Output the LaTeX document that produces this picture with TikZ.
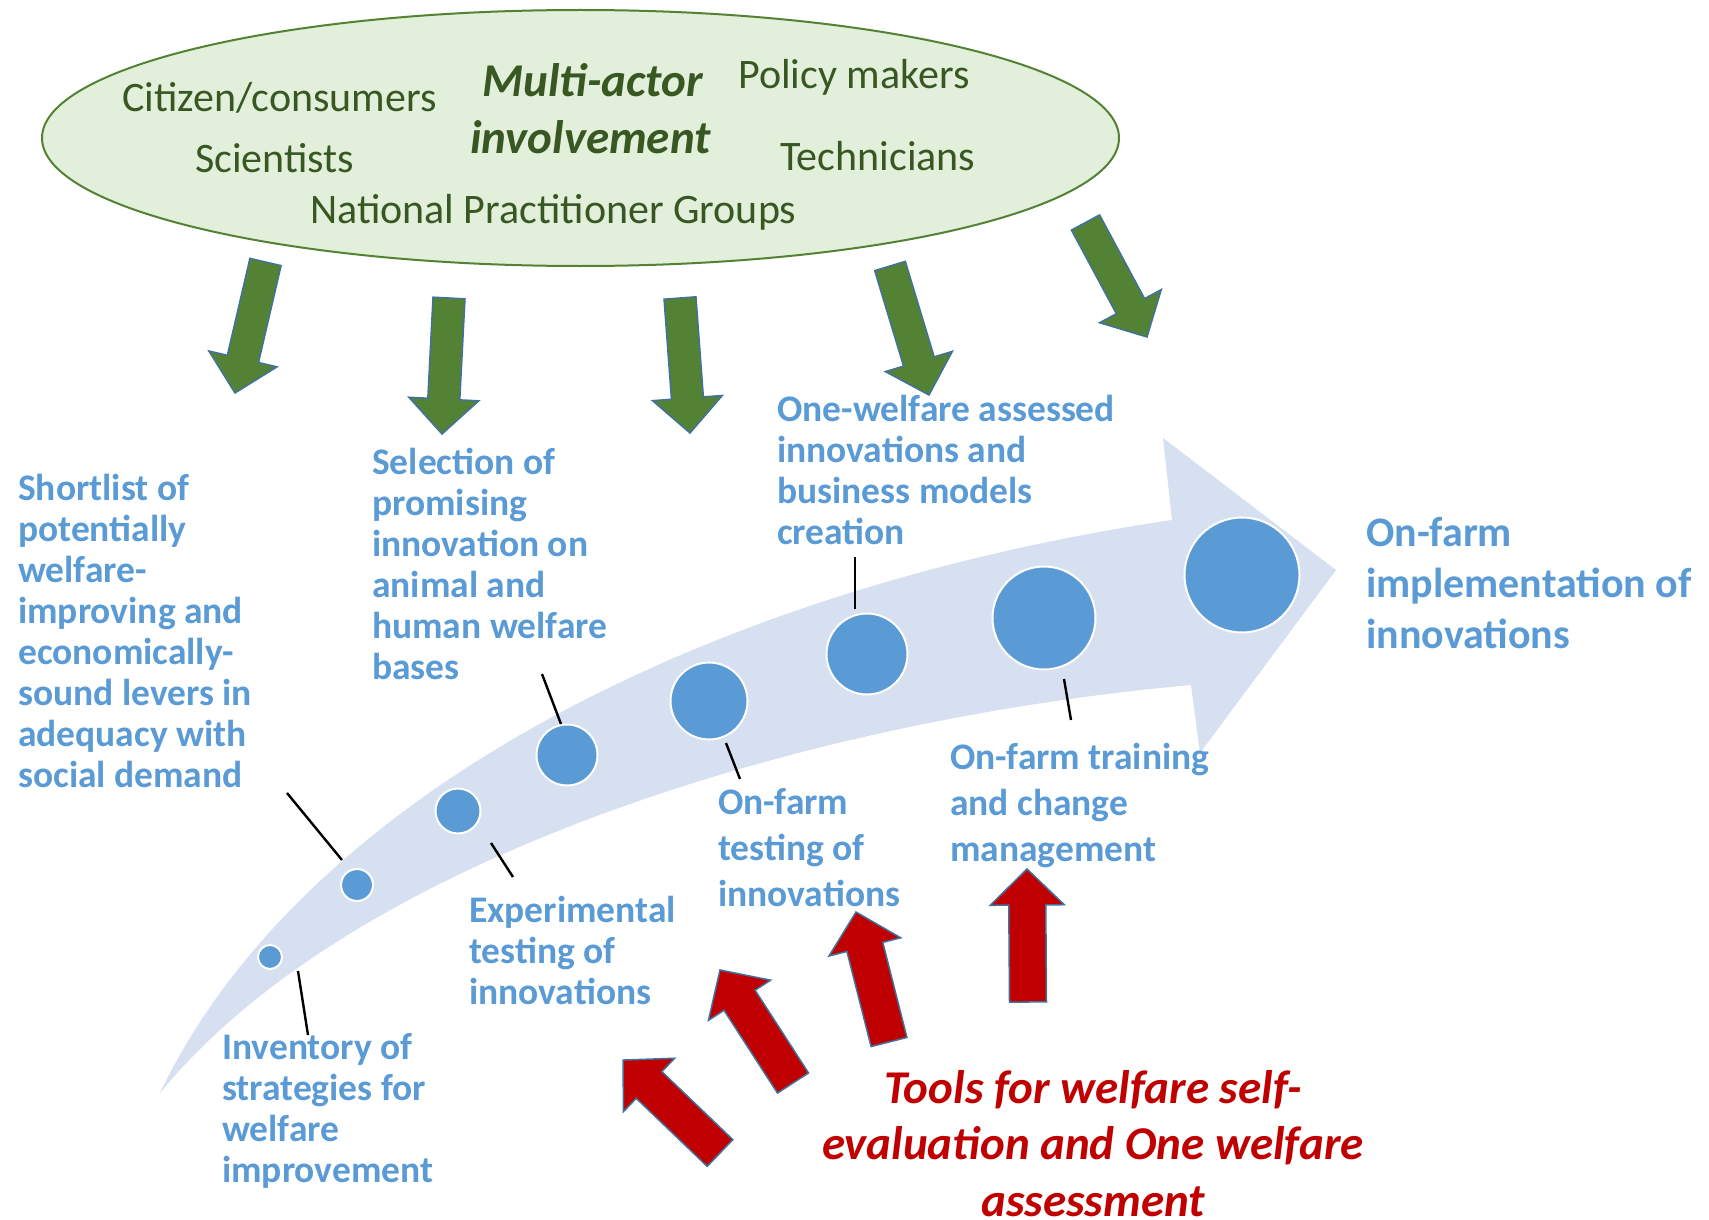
\documentclass[tikz,border=0pt]{standalone}
\usepackage{fontspec}
\setmainfont{Carlito}
\usetikzlibrary{calc,shapes.geometric}
\definecolor{bandblue}{RGB}{214,224,240}
\definecolor{dotblue}{RGB}{91,155,213}
\definecolor{txtblue}{RGB}{91,155,213}
\definecolor{ellfill}{RGB}{226,239,218}
\definecolor{ellline}{RGB}{84,130,53}
\definecolor{elltext}{RGB}{56,87,35}
\definecolor{garrow}{RGB}{84,130,53}
\definecolor{arrowline}{RGB}{65,113,156}
\definecolor{rarrow}{RGB}{192,0,0}
\newcommand\blockarrow[6]{%
  \path[#1] let \p1=(#2), \p2=(#3),
    \n1={atan2(\y2-\y1,\x2-\x1)}, \n2={veclen(\x2-\x1,\y2-\y1)} in
    [shift={(\p1)}, rotate=\n1]
    (0pt,#4pt) -- (\n2-#6pt,#4pt) -- (\n2-#6pt,#5pt) -- (\n2,0pt)
    -- (\n2-#6pt,-#5pt) -- (\n2-#6pt,-#4pt) -- (0pt,-#4pt) -- cycle;
}
\begin{document}
\begin{tikzpicture}[x=1pt,y=-1pt,
  dot/.style={circle, fill=dotblue, draw=white, line width=2pt, inner sep=0pt},
  leader/.style={draw=black, line width=2.4pt},
  btxt/.style={text=txtblue, font=\fontsize{37.5}{41}\selectfont\bfseries, align=left, anchor=base west, inner sep=0pt},
  btxtw/.style={btxt, font=\fontsize{37.5}{46}\selectfont\bfseries},
  gtxt/.style={text=elltext, font=\fontsize{42}{50}\selectfont, anchor=base west, inner sep=0pt},
  gtitle/.style={text=elltext, font=\fontsize{47}{56}\selectfont\bfseries\itshape, anchor=base west, inner sep=0pt},
  garr/.style={fill=garrow, draw=arrowline, line width=1.5pt, line join=miter},
  rarr/.style={fill=rarrow, draw=arrowline, line width=1.5pt, line join=miter}
]
\useasboundingbox (0,0) rectangle (1709,1220);
\fill[white] (0,0) rectangle (1709,1220);

% big curved arrow band
\fill[bandblue] (160,1093) .. controls (300,800) and (700,590) .. (1172,520)
  -- (1163,438) -- (1336,570) -- (1200,753) -- (1191,685)
  .. controls (800,720) and (350,860) .. (160,1093) -- cycle;

% ellipse
\node[ellipse, fill=ellfill, draw=ellline, line width=2pt, minimum width=1077pt, minimum height=256pt, inner sep=0pt] (ell) at (580.5,138) {};
\node[gtxt] (citizen) at (122,112) {Citizen/consumers};
\node[gtitle] (multi) at (482,97) {Multi-actor};
\node[gtxt] (policy) at (738,89) {Policy makers};
\node[gtitle] (invol) at (470,154) {involvement};
\node[gtxt] (scient) at (195,172) {Scientists};
\node[gtxt] (techn) at (780,171) {Technicians};
\node[gtxt] (npg) at (310,223) {National Practitioner Groups};

% green arrows
\coordinate (g1s) at (265.5,262); \coordinate (g1e) at (235,393);
\coordinate (g2s) at (449,298);   \coordinate (g2e) at (442,434);
\coordinate (g3s) at (680,298);   \coordinate (g3e) at (690,433);
\coordinate (g4s) at (890,266);   \coordinate (g4e) at (929,395);
\coordinate (g5s) at (1085.5,222.5); \coordinate (g5e) at (1147,337);
\blockarrow{garr}{g1s}{g1e}{16}{35}{35}
\blockarrow{garr}{g2s}{g2e}{16}{35}{35}
\blockarrow{garr}{g3s}{g3e}{16}{35}{35}
\blockarrow{garr}{g4s}{g4e}{16}{35}{35}
\blockarrow{garr}{g5s}{g5e}{16}{35}{35}

% red arrows
\coordinate (r1s) at (720,1153);  \coordinate (r1e) at (623,1060);
\coordinate (r2s) at (793,1083);  \coordinate (r2e) at (720,970);
\coordinate (r3s) at (889,1042);  \coordinate (r3e) at (856,912);
\coordinate (r4s) at (1028,1002); \coordinate (r4e) at (1027,869);
\blockarrow{rarr}{r1s}{r1e}{18.5}{37}{36}
\blockarrow{rarr}{r2s}{r2e}{18.5}{37}{36}
\blockarrow{rarr}{r3s}{r3e}{18.5}{37}{36}
\blockarrow{rarr}{r4s}{r4e}{18.5}{37}{36}

% dots
\node[dot, minimum size=24pt]  (c1) at (270,957) {};
\node[dot, minimum size=32pt]  (c2) at (357,885) {};
\node[dot, minimum size=45pt]  (c3) at (458,811) {};
\node[dot, minimum size=61pt]  (c4) at (567,755) {};
\node[dot, minimum size=77pt]  (c5) at (709,701) {};
\node[dot, minimum size=81pt]  (c6) at (867,654) {};
\node[dot, minimum size=103pt] (c7) at (1044,618) {};
\node[dot, minimum size=115pt] (c8) at (1242,575) {};

% leader lines
\coordinate (l1a) at (287,793);  \coordinate (l1b) at (342,860);
\coordinate (l2a) at (298,971);  \coordinate (l2b) at (308,1035);
\coordinate (l3a) at (491,843);  \coordinate (l3b) at (513,877);
\coordinate (l4a) at (542,674);  \coordinate (l4b) at (561,724);
\coordinate (l5a) at (726,743);  \coordinate (l5b) at (740,779);
\coordinate (l6a) at (855,557);  \coordinate (l6b) at (855,609);
\coordinate (l7a) at (1064,679); \coordinate (l7b) at (1071,720);
\draw[leader] (l1a) -- (l1b);
\draw[leader] (l2a) -- (l2b);
\draw[leader] (l3a) -- (l3b);
\draw[leader] (l4a) -- (l4b);
\draw[leader] (l5a) -- (l5b);
\draw[leader] (l6a) -- (l6b);
\draw[leader] (l7a) -- (l7b);

% blue texts (anchored at the baseline of their last line)
\node[btxt] (t1) at (18,787) {Shortlist of\\potentially\\welfare-\\improving and\\economically-\\sound levers in\\adequacy with\\social demand};
\node[btxt] (t2) at (372,679) {Selection of\\promising\\innovation on\\animal and\\human welfare\\bases};
\node[btxt] (t3) at (777,544) {One-welfare assessed\\innovations and\\business models\\creation};
\node[btxt, font=\fontsize{42}{51}\selectfont\bfseries] (t4) at (1366,648) {On-farm\\implementation of\\innovations};
\node[btxtw] (t5) at (950,861) {On-farm training\\and change\\management};
\node[btxtw] (t6) at (718,906) {On-farm\\testing of\\innovations};
\node[btxt] (t7) at (469,1004) {Experimental\\testing of\\innovations};
\node[btxt] (t8) at (222,1182) {Inventory of\\strategies for\\welfare\\improvement};

% red text
\node[text=rarrow, font=\fontsize{47}{56.5}\selectfont\bfseries\itshape, align=center, anchor=base, inner sep=0pt] (tools) at (1093,1216) {Tools for welfare self-\\evaluation and One welfare\\assessment};
\end{tikzpicture}
\end{document}
